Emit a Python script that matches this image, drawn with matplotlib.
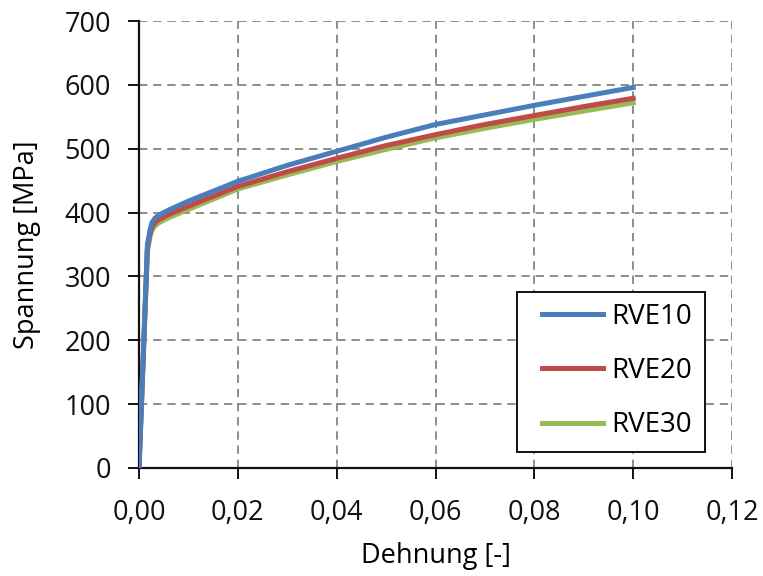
import matplotlib
matplotlib.use("Agg")
import matplotlib.pyplot as plt
from matplotlib.patches import Rectangle
from matplotlib.ticker import FixedLocator

plt.rcParams['font.family'] = ['Open Sans', 'DejaVu Sans']

# Strain values (shared by all three RVE sizes)
strain = [0.0, 0.0017, 0.0022, 0.0026, 0.0032, 0.004, 0.006, 0.01, 0.02,
          0.03, 0.04, 0.05, 0.06, 0.07, 0.08, 0.09, 0.10]

# Stress values [MPa] for each RVE size
rve10 = [0, 350, 372, 384, 391, 396, 404, 418, 449, 474, 496, 518, 538,
         553, 568, 582, 596]
rve20 = [0, 345, 366, 377, 384, 389, 397, 410, 441, 464, 485, 505, 522,
         538, 552, 566, 579]
rve30 = [0, 340, 361, 372, 379, 384, 392, 405, 437, 459, 480, 499, 517,
         532, 546, 559, 572]

x_ticks = [0.0, 0.02, 0.04, 0.06, 0.08, 0.10, 0.12]
x_labels = ['0,00', '0,02', '0,04', '0,06', '0,08', '0,10', '0,12']
y_ticks = [0, 100, 200, 300, 400, 500, 600, 700]

fig = plt.figure(figsize=(7.63, 5.76), dpi=100)
ax = fig.add_axes([0.1822, 0.1875, 0.7772, 0.776])

ax.plot(strain, rve10, color='#4A7EBB', lw=3.6, label='RVE10', zorder=5)
ax.plot(strain, rve20, color='#BE4B48', lw=3.6, label='RVE20', zorder=4)
ax.plot(strain, rve30, color='#98B954', lw=3.6, label='RVE30', zorder=3)

ax.set_xlim(0, 0.12)
ax.set_ylim(0, 700)
ax.xaxis.set_major_locator(FixedLocator(x_ticks))
ax.set_xticklabels(x_labels)
ax.yaxis.set_major_locator(FixedLocator(y_ticks))

ax.grid(True, color='#7a7a7a', linestyle=(0, (5, 3.5)), linewidth=1.2)
ax.set_axisbelow(True)

for side in ('top', 'right'):
    ax.spines[side].set_visible(False)
for side in ('left', 'bottom'):
    ax.spines[side].set_linewidth(1.6)
    ax.spines[side].set_color('#111111')

ax.tick_params(axis='both', direction='out', length=8, width=1.4,
               labelsize=19.5, colors='#111111')
ax.tick_params(axis='y', pad=12)
ax.tick_params(axis='x', pad=14)

ax.set_xlabel('Dehnung [-]', fontsize=19.5, labelpad=11)
ax.set_ylabel('Spannung [MPa]', fontsize=19.5, labelpad=17)

# Legend box drawn as its own frame (wider side margins than the legend pad)
ax.add_patch(Rectangle((0.637, 0.036), 0.317, 0.358, transform=ax.transAxes,
                       facecolor='white', edgecolor='#111111', linewidth=1.4,
                       zorder=9))
leg = ax.legend(loc='lower right', bbox_to_anchor=(0.954, 0.036), fontsize=20,
                frameon=False, handlelength=2.2, handletextpad=0.3,
                labelspacing=0.95, borderpad=0.45, borderaxespad=0)
leg.set_zorder(10)

fig.savefig('out.png', dpi=100, facecolor='white')
